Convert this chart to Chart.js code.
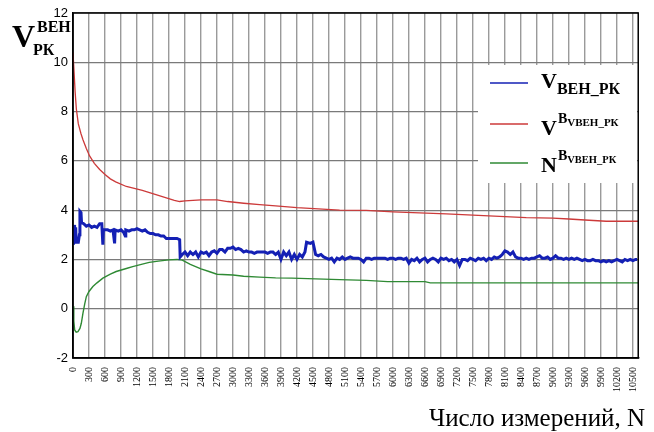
<!DOCTYPE html>
<html>
<head>
<meta charset="utf-8">
<script src="https://cdn.jsdelivr.net/npm/chart.js@4/dist/chart.umd.min.js"></script>
<style>
  html, body { margin: 0; padding: 0; background: #fff; }
  canvas { display: block; }
</style>
</head>
<body>
<canvas id="c" width="654" height="432"></canvas>
<script>
// Tick labels
const xTicks = [0, 300, 600, 900, 1200, 1500, 1800, 2100, 2400, 2700, 3000, 3300,
  3600, 3900, 4200, 4500, 4800, 5100, 5400, 5700, 6000, 6300, 6600, 6900, 7200,
  7500, 7800, 8100, 8400, 8700, 9000, 9300, 9600, 9900, 10200, 10500];
const yTicks = [-2, 0, 2, 4, 6, 8, 10, 12];

// V ВЕН_РК — measured value (blue)
const blueN = [0, 10, 20, 30, 40, 50, 60, 80, 100, 120, 130, 150, 160, 200, 250, 300, 350, 400, 450, 500,
  540, 560, 570, 650, 700, 750, 780, 790, 850, 900, 950, 980, 990, 1050, 1100, 1150, 1200, 1250, 1300, 1350,
  1400, 1450, 1500, 1550, 1600, 1650, 1700, 1750, 1800, 1900, 1950, 2000, 2010, 2050, 2100, 2150, 2200, 2250,
  2300, 2350, 2400, 2450, 2500, 2550, 2600, 2650, 2700, 2750, 2800, 2850, 2900, 2950, 3000, 3050, 3100, 3150,
  3200, 3250, 3300, 3350, 3400, 3450, 3500, 3550, 3600, 3650, 3700, 3750, 3800, 3850, 3900, 3950, 4000, 4050,
  4100, 4150, 4200, 4250, 4300, 4350, 4380, 4450, 4500, 4550, 4600, 4650, 4700, 4750, 4800, 4850, 4900, 4950,
  5000, 5050, 5100, 5150, 5200, 5250, 5300, 5350, 5400, 5450, 5500, 5550, 5600, 5650, 5700, 5750, 5800, 5850,
  5900, 5950, 6000, 6050, 6100, 6150, 6200, 6250, 6300, 6350, 6400, 6450, 6500, 6550, 6600, 6650, 6700, 6750,
  6800, 6850, 6900, 6950, 7000, 7050, 7100, 7150, 7200, 7250, 7300, 7350, 7400, 7450, 7500, 7550, 7600, 7650,
  7700, 7750, 7800, 7850, 7900, 7950, 8000, 8050, 8100, 8150, 8200, 8250, 8300, 8350, 8400, 8450, 8500, 8550,
  8600, 8650, 8700, 8750, 8800, 8850, 8900, 8950, 9000, 9050, 9100, 9150, 9200, 9250, 9300, 9350, 9400, 9450,
  9500, 9550, 9600, 9650, 9700, 9750, 9800, 9850, 9900, 9950, 10000, 10050, 10100, 10150, 10200, 10250, 10300,
  10350, 10400, 10450, 10500, 10550, 10580];
const blueV = [3.3, 2.6, 3.4, 3.1, 2.8, 3.3, 2.7, 2.7, 2.7, 3.0, 3.95, 3.9, 3.5, 3.45, 3.35, 3.4, 3.3, 3.35, 3.3, 3.45,
  3.45, 2.6, 3.2, 3.2, 3.15, 3.2, 2.65, 3.2, 3.15, 3.2, 3.1, 2.95, 3.2, 3.15, 3.2, 3.2, 3.25, 3.2, 3.15, 3.2,
  3.1, 3.05, 3.05, 3.0, 3.0, 2.95, 2.95, 2.85, 2.85, 2.85, 2.85, 2.8, 2.1, 2.2, 2.3, 2.15, 2.3, 2.2,
  2.3, 2.1, 2.3, 2.25, 2.3, 2.15, 2.3, 2.35, 2.25, 2.4, 2.4, 2.3, 2.45, 2.45, 2.5, 2.4, 2.45, 2.4,
  2.3, 2.35, 2.3, 2.3, 2.25, 2.3, 2.3, 2.3, 2.3, 2.25, 2.3, 2.3, 2.2, 2.3, 2.0, 2.3, 2.15, 2.3,
  2.0, 2.2, 2.0, 2.2, 2.1, 2.3, 2.7, 2.65, 2.7, 2.2, 2.15, 2.2, 2.1, 2.05, 2.0, 2.05, 1.9, 2.05,
  2.0, 2.1, 2.0, 2.05, 2.1, 2.05, 2.05, 2.05, 2.0, 1.9, 2.05, 2.05, 2.0, 2.05, 2.05, 2.05, 2.05, 2.05,
  2.0, 2.05, 2.05, 2.0, 2.05, 2.05, 2.0, 2.05, 1.85, 2.0, 1.95, 2.05, 1.9, 2.0, 2.05, 1.9, 2.0, 2.05,
  2.0, 1.9, 2.05, 2.0, 2.05, 1.95, 2.0, 1.9, 2.0, 1.75, 2.0, 2.0, 1.95, 2.05, 2.0, 1.95, 2.05, 2.0,
  2.05, 1.95, 2.05, 2.0, 2.1, 2.05, 2.1, 2.2, 2.35, 2.3, 2.2, 2.3, 2.1, 2.05, 2.05, 2.0, 2.05, 2.0,
  2.05, 2.05, 2.1, 2.15, 2.05, 2.05, 2.1, 2.0, 2.05, 2.15, 2.05, 2.05, 2.0, 2.05, 2.0, 2.05, 2.0, 2.05,
  2.0, 1.95, 2.0, 1.95, 1.95, 2.0, 1.95, 1.95, 1.9, 1.95, 1.9, 1.95, 1.9, 1.95, 2.0, 1.95, 1.9,
  2.0, 1.95, 2.0, 1.95, 2.0, 2.0];

// V^B — upper bound (red)
const redN = [0, 20, 40, 63, 100, 150, 187, 250, 311, 400, 500, 600, 700, 800, 1000, 1300, 1600, 1900, 2000,
  2100, 2400, 2700, 2900, 3200, 3500, 3800, 4200, 4600, 5000, 5500, 6000, 6500, 7000, 7500, 8000, 8500,
  9000, 9300, 9600, 10000, 10600];
const redV = [10.4, 9.6, 8.8, 8.1, 7.5, 7.1, 6.86, 6.5, 6.2, 5.9, 5.65, 5.45, 5.27, 5.15, 4.96, 4.8, 4.6, 4.4, 4.35,
  4.38, 4.42, 4.42, 4.35, 4.28, 4.22, 4.17, 4.1, 4.05, 4.0, 3.99, 3.93, 3.89, 3.85, 3.8, 3.75, 3.7,
  3.68, 3.64, 3.6, 3.55, 3.55];

// N^B — lower bound (green)
const greenN = [0, 15, 31, 60, 93, 130, 156, 187, 220, 250, 300, 373, 450, 560, 700, 810, 1000, 1119, 1300, 1430,
  1600, 1800, 1950, 2050, 2200, 2400, 2550, 2700, 3000, 3200, 3500, 3800, 4100, 4400, 4700, 5000, 5500,
  5900, 6600, 6700, 10600];
const greenV = [0.1, -0.5, -0.86, -0.95, -0.93, -0.8, -0.59, -0.18, 0.2, 0.49, 0.7, 0.9, 1.05, 1.24, 1.4, 1.51, 1.63, 1.71, 1.81, 1.88,
  1.93, 1.98, 2.0, 1.97, 1.8, 1.62, 1.51, 1.4, 1.37, 1.32, 1.28, 1.25, 1.24, 1.22, 1.2, 1.18, 1.15,
  1.1, 1.1, 1.05, 1.05];

const BLUE = '#1420b4';
const RED = '#cc3a3a';
const GREEN = '#2f8a34';
const SERIF = '"Liberation Serif", "Times New Roman", serif';

const toPoints = (xs, ys) => xs.map((x, i) => ({ x: x, y: ys[i] }));

// Draws a string and returns its advance width
function put(ctx, str, x, y, font, color) {
  ctx.font = font;
  ctx.fillStyle = color || '#000';
  ctx.textAlign = 'left';
  ctx.textBaseline = 'alphabetic';
  ctx.fillText(str, x, y);
  return ctx.measureText(str).width;
}

const decorations = {
  id: 'decorations',
  beforeDatasetsDraw(chart) {
    const ctx = chart.ctx;
    // white legend panel over the grid
    ctx.save();
    ctx.fillStyle = '#fff';
    ctx.fillRect(478, 65, 159, 118);
    ctx.restore();
  },
  afterDraw(chart) {
    const ctx = chart.ctx;
    const a = chart.chartArea;
    ctx.save();
    // frame around the plot
    ctx.strokeStyle = '#000';
    ctx.lineWidth = 1.5;
    ctx.strokeRect(a.left, a.top, a.right - a.left, a.bottom - a.top);

    // legend samples
    const rows = [
      { y: 83, color: BLUE },
      { y: 124, color: RED },
      { y: 163, color: GREEN }
    ];
    rows.forEach(r => {
      ctx.strokeStyle = r.color;
      ctx.lineWidth = 1.5;
      ctx.beginPath();
      ctx.moveTo(490, r.y);
      ctx.lineTo(528, r.y);
      ctx.stroke();
    });

    // legend labels
    let w = put(ctx, 'V', 541, 88, 'bold 22px ' + SERIF);
    put(ctx, 'ВЕН_РК', 541 + w, 94, 'bold 16px ' + SERIF);

    w = put(ctx, 'V', 541, 135, 'bold 22px ' + SERIF);
    let w2 = put(ctx, 'B', 541 + w + 1, 123, 'bold 14px ' + SERIF);
    put(ctx, 'VВЕН_РК', 541 + w + 1 + w2, 126, 'bold 11px ' + SERIF);

    w = put(ctx, 'N', 541, 172, 'bold 22px ' + SERIF);
    w2 = put(ctx, 'B', 541 + w + 1, 160, 'bold 14px ' + SERIF);
    put(ctx, 'VВЕН_РК', 541 + w + 1 + w2, 163, 'bold 10.5px ' + SERIF);

    // y-axis title
    put(ctx, 'V', 12, 47, 'bold 32px ' + SERIF);
    put(ctx, 'ВЕН', 37, 32, 'bold 16px ' + SERIF);
    put(ctx, 'РК', 33, 55, 'bold 16px ' + SERIF);

    // x-axis title
    ctx.font = '25px ' + SERIF;
    ctx.fillStyle = '#000';
    ctx.textAlign = 'right';
    ctx.textBaseline = 'alphabetic';
    ctx.fillText('Число измерений, N', 645, 426);
    ctx.restore();
  }
};

new Chart(document.getElementById('c'), {
  type: 'line',
  data: {
    datasets: [
      { label: 'V ВЕН_РК', data: toPoints(blueN, blueV), borderColor: BLUE, borderWidth: 3,
        pointRadius: 0, tension: 0 },
      { label: 'V B', data: toPoints(redN, redV), borderColor: RED, borderWidth: 1.3,
        pointRadius: 0, tension: 0 },
      { label: 'N B', data: toPoints(greenN, greenV), borderColor: GREEN, borderWidth: 1.4,
        pointRadius: 0, tension: 0 }
    ]
  },
  options: {
    responsive: false,
    animation: false,
    devicePixelRatio: 1,
    layout: { padding: { top: 13, right: 11, left: 0, bottom: 0 } },
    plugins: { legend: { display: false }, tooltip: { enabled: false } },
    scales: {
      x: {
        type: 'linear',
        min: 0,
        max: 10600,
        afterBuildTicks: s => { s.ticks = xTicks.map(v => ({ value: v })); },
        afterFit: s => { s.height = 74; },
        ticks: {
          autoSkip: false, minRotation: 90, maxRotation: 90, padding: 9,
          font: { family: SERIF, size: 10 }, color: '#000',
          callback: v => String(v)
        },
        grid: { color: '#9a9a9a', lineWidth: 1.4, drawTicks: false },
        border: { color: '#000', width: 1.5 }
      },
      y: {
        min: -2,
        max: 12,
        afterBuildTicks: s => { s.ticks = yTicks.map(v => ({ value: v })); },
        afterFit: s => { s.width = 73; },
        ticks: {
          padding: 5, font: { family: '"Liberation Sans", Arial, sans-serif', size: 13 }, color: '#000',
          callback: v => String(v)
        },
        grid: { color: '#7a7a7a', lineWidth: 1.2, drawTicks: false },
        border: { color: '#000', width: 1.5 }
      }
    }
  },
  plugins: [decorations]
});
</script>
</body>
</html>
